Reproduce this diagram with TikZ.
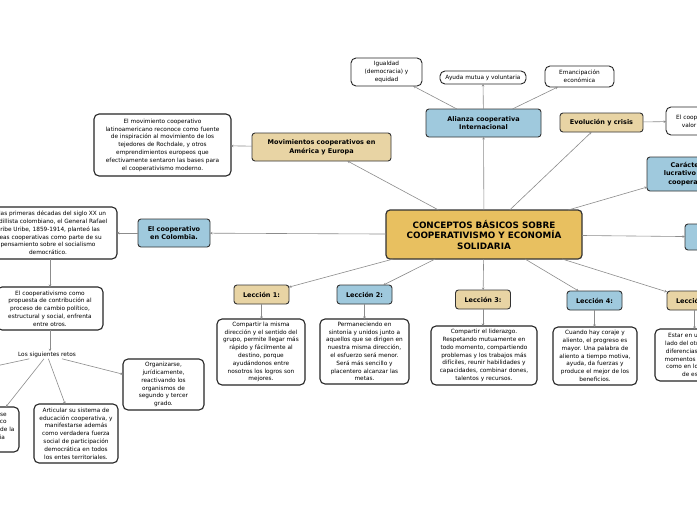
\documentclass[tikz,border=0pt]{standalone}
\usepackage{fontspec}
\setmainfont{DejaVu Sans}
\usetikzlibrary{arrows.meta}
\definecolor{gold}{HTML}{E8C060}
\definecolor{tanf}{HTML}{E8D4A4}
\definecolor{lblue}{HTML}{9FC9DD}
\definecolor{edgec}{HTML}{333333}
\definecolor{connc}{HTML}{8C8C8C}
\begin{document}
\begin{tikzpicture}[x=1pt,y=-1pt,
 every node/.style={inner sep=0pt, outer sep=0pt},
 central/.style={draw=edgec, line width=1.2pt, fill=gold, rounded corners=4pt, align=center, font=\fontsize{8.8}{10.5}\selectfont\bfseries},
 topic/.style={draw=edgec, line width=0.9pt, rounded corners=3pt, align=center, font=\fontsize{6.5}{8.5}\selectfont\bfseries},
 tanbox/.style={topic, fill=tanf},
 bluebox/.style={topic, fill=lblue},
 textbox/.style={draw=black!85, line width=1.1pt, fill=white, rounded corners=5pt, align=center, font=\fontsize{5.8}{7.8}\selectfont},
 plain/.style={align=center, font=\fontsize{5.8}{7.8}\selectfont},
 link/.style={draw=connc, line width=0.6pt, -{Stealth[length=2.5pt,width=2.5pt]}},
 lesson/.style={minimum width=55, minimum height=19},
]
\useasboundingbox (0,0) rectangle (697,520);
\fill[white] (0,0) rectangle (697,520);
\clip (0,0) rectangle (697,520);

% central
\node[central, minimum width=196, minimum height=49] (c) at (484,234.5) {CONCEPTOS BÁSICOS SOBRE\\COOPERATIVISMO Y ECONOMÍA\\SOLIDARIA};

% top
\node[bluebox, minimum width=115, minimum height=28] (ali) at (483.5,123) {Alianza cooperativa\\Internacional};
\node[textbox, line width=0.9pt, minimum width=71, minimum height=28] (igu) at (386.5,72) {Igualdad\\(democracia) y\\equidad};
\node[textbox, line width=0.9pt, minimum width=86, minimum height=13] (ayu) at (483,77.5) {Ayuda mutua y voluntaria};
\node[textbox, line width=0.9pt, minimum width=69, minimum height=21] (ema) at (579.5,76.5) {Emancipación\\económica};

\node[tanbox, minimum width=83, minimum height=19] (evo) at (601.5,122.5) {Evolución y crisis};
\node[textbox, line width=0.9pt, minimum width=90, minimum height=28] (evt) at (711,121) {El cooperativismo como\\valor de la sociedad};
\node[bluebox, minimum width=90, minimum height=34] (car) at (692,174) {Carácter no\\lucrativo de las\\cooperativas};
\node[bluebox, minimum width=90, minimum height=26] (rb) at (730,237) {};

% left
\node[tanbox, minimum width=139, minimum height=28] (mov) at (321.5,147) {Movimientos cooperativos en\\América y Europa};
\node[textbox, minimum width=137, minimum height=62] (mvt) at (162.5,145) {El movimiento cooperativo\\latinoamericano reconoce como fuente\\de inspiración al movimiento de los\\tejedores de Rochdale, y otros\\emprendimientos europeos que\\efectivamente sentaron las bases para\\el cooperativismo moderno.};
\node[bluebox, minimum width=72, minimum height=28] (col) at (174,233) {El cooperativo\\en Colombia.};
\node[textbox, minimum width=138, minimum height=52] (clt) at (48,233) {En las primeras décadas del siglo XX un\\caudillista colombiano, el General Rafael\\Uribe Uribe, 1859-1914, planteó las\\ideas cooperativas como parte de su\\pensamiento sobre el socialismo\\democrático.};
\node[textbox, minimum width=106, minimum height=43] (pro) at (50,308.5) {El cooperativismo como\\propuesta de contribución al\\proceso de cambio político,\\estructural y social, enfrenta\\entre otros.};
\node[plain, inner sep=1pt] (ret) at (47,355) {Los siguientes retos};
\coordinate (offl) at (-60,378);
\node[textbox, minimum width=62, minimum height=45] (lfb) at (-12,429.5) {Consolidarse\\en lo político\\y económico de la\\democracia\\nacional};
\node[textbox, minimum width=84, minimum height=59] (art) at (76,433.5) {Articular su sistema de\\educación cooperativa, y\\manifestarse además\\como verdadera fuerza\\social de participación\\democrática en todos\\los entes territoriales.};
\node[textbox, minimum width=81, minimum height=51] (org) at (163.5,384.5) {Organizarse,\\jurídicamente,\\reactivando los\\organismos de\\segundo y tercer\\grado.};

% lessons
\node[tanbox, lesson] (l1) at (261.5,294.5) {Lección 1:};
\node[bluebox, lesson] (l2) at (364.5,294.5) {Lección 2:};
\node[tanbox, lesson] (l3) at (483,299.5) {Lección 3:};
\node[bluebox, lesson] (l4) at (594.5,300.5) {Lección 4:};
\node[tanbox, lesson] (l5) at (694.5,300.5) {Lección 5:};

\node[textbox, minimum width=88, minimum height=66] (b1) at (261,352) {Compartir la misma\\dirección y el sentido del\\grupo, permite llegar más\\rápido y fácilmente al\\destino, porque\\ayudándonos entre\\nosotros los logros son\\mejores.};
\node[textbox, minimum width=89, minimum height=65] (b2) at (364.5,351.5) {Permaneciendo en\\sintonía y unidos junto a\\aquellos que se dirigen en\\nuestra misma dirección,\\el esfuerzo será menor.\\Será más sencillo y\\placentero alcanzar las\\metas.};
\node[textbox, minimum width=106, minimum height=59] (b3) at (484,355.5) {Compartir el liderazgo.\\Respetando mutuamente en\\todo momento, compartiendo\\problemas y los trabajos más\\difíciles, reunir habilidades y\\capacidades, combinar dones,\\talentos y recursos.};
\node[textbox, minimum width=84, minimum height=58] (b4) at (595,356) {Cuando hay coraje y\\aliento, el progreso es\\mayor. Una palabra de\\aliento a tiempo motiva,\\ayuda, da fuerzas y\\produce el mejor de los\\beneficios.};
\node[textbox, minimum width=90, minimum height=52] (b5) at (700,355) {Estar en unión, uno al\\lado del otro, pese a las\\diferencias tanto en los\\momentos de dificultad,\\como en los momentos\\de esfuerzo.};

% connectors
\draw[link] (c) -- (ali);
\draw[link] (c) -- (evo);
\draw[link] (c) -- (car);
\draw[link] (c) -- (rb);
\draw[link] (c) -- (mov);
\draw[link] (c) -- (col);
\draw[link] (c) -- (l1);
\draw[link] (c) -- (l2);
\draw[link] (c) -- (l3);
\draw[link] (c) -- (l4);
\draw[link] (c) -- (l5);
\draw[link] (ali) -- (igu);
\draw[link] (ali) -- (ayu);
\draw[link] (ali) -- (ema);
\draw[link] (evo) -- (evt);
\draw[link] (mov) -- (mvt);
\draw[link] (col) -- (clt);
\draw[link] (pro |- clt.south) -- (pro);
\draw[link] (pro) -- (pro |- ret.north);
\draw[link] (ret) -- (offl);
\draw[link] (ret) -- (lfb);
\draw[link] (ret) -- (art);
\draw[link] (ret) -- (org);
\draw[link] (l1) -- (l1 |- b1.north);
\draw[link] (l2) -- (l2 |- b2.north);
\draw[link] (l3) -- (l3 |- b3.north);
\draw[link] (l4) -- (l4 |- b4.north);
\draw[link] (l5) -- (l5 |- b5.north);
\end{tikzpicture}
\end{document}
